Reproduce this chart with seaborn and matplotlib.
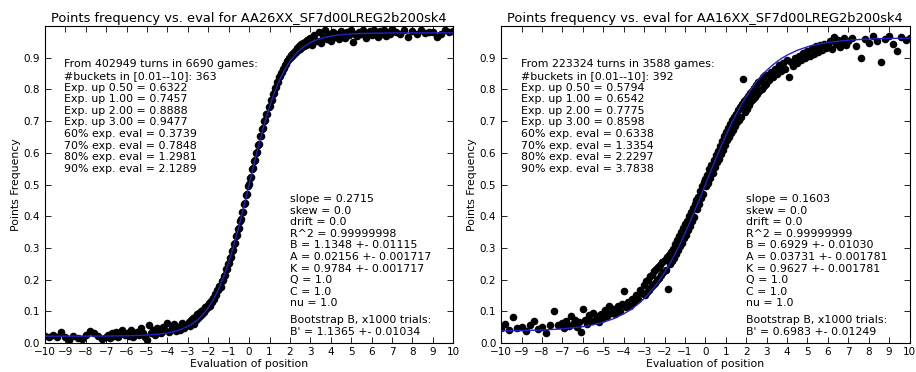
import numpy as np
import matplotlib
matplotlib.use("Agg")
import matplotlib.pyplot as plt
import seaborn as sns

# bucket centres (eval of position): coarse in the tails, fine around zero
x_buckets = np.round(np.concatenate([
    np.arange(-10.0, -7.1, 0.2),
    np.arange(-7.0, -3.05, 0.1),
    np.arange(-3.0, 2.975, 0.05),
    np.arange(3.0, 6.95, 0.1),
    np.arange(7.0, 10.05, 0.2),
]), 2)

# points frequency per bucket, AA26XX
freq_aa26 = [
    # -10.0 .. -7.2
    0.022, 0.020, 0.024, 0.018, 0.036, 0.020, 0.010, 0.022, 0.016, 0.014,
    0.024, 0.038, 0.030, 0.022, 0.014,
    # -7.0 .. -3.1
    0.020, 0.026, 0.016, 0.030, 0.022, 0.034, 0.018, 0.028, 0.040, 0.024,
    0.030, 0.022, 0.040, 0.018, 0.028, 0.035, 0.024, 0.046, 0.030, 0.020,
    0.008, 0.058, 0.030, 0.040, 0.026, 0.048, 0.036, 0.030, 0.052, 0.040,
    0.064, 0.034, 0.046, 0.060, 0.038, 0.050, 0.042, 0.062, 0.048, 0.056,
    # -3.00 .. -0.05
    0.060, 0.066, 0.054, 0.072, 0.064, 0.078, 0.060, 0.082, 0.074, 0.090,
    0.080, 0.094, 0.086, 0.100, 0.092, 0.104, 0.098, 0.112, 0.106, 0.118,
    0.114, 0.126, 0.118, 0.134, 0.130, 0.142, 0.140, 0.156, 0.152, 0.168,
    0.166, 0.180, 0.178, 0.196, 0.198, 0.212, 0.214, 0.232, 0.232, 0.250,
    0.252, 0.268, 0.272, 0.290, 0.294, 0.312, 0.316, 0.336, 0.340, 0.360,
    0.364, 0.386, 0.390, 0.412, 0.414, 0.438, 0.442, 0.466, 0.470, 0.494,
    # 0.00 .. 2.95
    0.502, 0.520, 0.524, 0.548, 0.552, 0.574, 0.578, 0.600, 0.604, 0.626,
    0.628, 0.652, 0.654, 0.676, 0.678, 0.700, 0.702, 0.722, 0.724, 0.744,
    0.748, 0.766, 0.768, 0.786, 0.790, 0.804, 0.808, 0.822, 0.824, 0.838,
    0.842, 0.852, 0.856, 0.866, 0.868, 0.878, 0.880, 0.890, 0.892, 0.900,
    0.898, 0.908, 0.906, 0.916, 0.912, 0.922, 0.918, 0.930, 0.924, 0.936,
    0.928, 0.942, 0.934, 0.946, 0.938, 0.950, 0.940, 0.956, 0.944, 0.958,
    # 3.0 .. 6.9
    0.962, 0.940, 0.972, 0.952, 0.980, 0.948, 0.966, 0.986, 0.958, 0.974,
    0.952, 0.982, 0.966, 0.976, 0.958, 0.984, 0.970, 0.962, 0.980, 0.972,
    0.986, 0.950, 0.976, 0.968, 0.982, 0.974, 0.988, 0.962, 0.978, 0.984,
    0.972, 0.986, 0.978, 0.966, 0.984, 0.976, 0.988, 0.970, 0.982, 0.976,
    # 7.0 .. 10.0
    0.990, 0.982, 0.976, 0.986, 0.964, 0.984, 0.974, 0.986, 0.978, 0.982,
    0.980, 0.964, 0.976, 0.986, 0.980, 0.984,
]

# points frequency per bucket, AA16XX
freq_aa16 = [
    # -10.0 .. -7.2
    0.046, 0.060, 0.040, 0.082, 0.048, 0.052, 0.038, 0.056, 0.068, 0.044,
    0.050, 0.030, 0.058, 0.100, 0.056,
    # -7.0 .. -3.1
    0.062, 0.048, 0.070, 0.054, 0.084, 0.060, 0.074, 0.050, 0.066, 0.036,
    0.108, 0.072, 0.060, 0.088, 0.068, 0.096, 0.074, 0.084, 0.066, 0.092,
    0.080, 0.104, 0.086, 0.118, 0.094, 0.108, 0.090, 0.116, 0.100, 0.122,
    0.164, 0.112, 0.130, 0.118, 0.140, 0.128, 0.152, 0.140, 0.166, 0.158,
    # -3.00 .. -0.05
    0.182, 0.150, 0.194, 0.160, 0.200, 0.168, 0.210, 0.176, 0.216, 0.184,
    0.226, 0.190, 0.232, 0.198, 0.240, 0.206, 0.246, 0.214, 0.254, 0.224,
    0.262, 0.230, 0.270, 0.170, 0.278, 0.248, 0.288, 0.258, 0.298, 0.268,
    0.312, 0.282, 0.326, 0.292, 0.338, 0.306, 0.350, 0.316, 0.364, 0.330,
    0.374, 0.342, 0.386, 0.356, 0.400, 0.368, 0.412, 0.384, 0.426, 0.398,
    0.438, 0.452, 0.422, 0.462, 0.438, 0.478, 0.456, 0.494, 0.470, 0.508,
    # 0.00 .. 2.95
    0.516, 0.494, 0.530, 0.506, 0.548, 0.522, 0.562, 0.536, 0.578, 0.556,
    0.592, 0.570, 0.606, 0.582, 0.622, 0.596, 0.636, 0.610, 0.652, 0.626,
    0.666, 0.640, 0.678, 0.650, 0.690, 0.662, 0.704, 0.672, 0.714, 0.686,
    0.724, 0.696, 0.736, 0.704, 0.746, 0.714, 0.754, 0.834, 0.762, 0.728,
    0.770, 0.738, 0.780, 0.750, 0.788, 0.762, 0.796, 0.770, 0.806, 0.776,
    0.814, 0.784, 0.822, 0.794, 0.830, 0.800, 0.838, 0.812, 0.844, 0.818,
    # 3.0 .. 6.9
    0.846, 0.830, 0.856, 0.840, 0.866, 0.850, 0.876, 0.858, 0.882, 0.866,
    0.892, 0.838, 0.888, 0.874, 0.900, 0.884, 0.906, 0.892, 0.914, 0.898,
    0.922, 0.904, 0.930, 0.912, 0.936, 0.918, 0.940, 0.924, 0.944, 0.930,
    0.936, 0.952, 0.928, 0.966, 0.944, 0.956, 0.934, 0.950, 0.962, 0.940,
    # 7.0 .. 10.0
    0.952, 0.962, 0.938, 0.898, 0.958, 0.946, 0.968, 0.952, 0.888, 0.960,
    0.970, 0.944, 0.922, 0.966, 0.956, 0.962,
]

# fitted curve, read at these evals
x_fit = [-10, -9, -8, -7, -6, -5.5, -5, -4.5, -4, -3.75, -3.5, -3.25, -3,
         -2.75, -2.5, -2.25, -2, -1.75, -1.5, -1.25, -1, -0.75, -0.5, -0.25,
         0, 0.25, 0.5, 0.75, 1, 1.25, 1.5, 1.75, 2, 2.25, 2.5, 2.75, 3,
         3.25, 3.5, 3.75, 4, 4.5, 5, 5.5, 6, 7, 8, 9, 10]
fit_aa26 = [0.0216, 0.0216, 0.0217, 0.0219, 0.0227, 0.0235, 0.0249, 0.0274,
            0.0317, 0.0350, 0.0393, 0.0450, 0.0524, 0.0620, 0.0746, 0.0907,
            0.1112, 0.1371, 0.1691, 0.2081, 0.2544, 0.3079, 0.3678, 0.4326,
            0.5000, 0.5674, 0.6322, 0.6921, 0.7456, 0.7919, 0.8309, 0.8629,
            0.8888, 0.9093, 0.9254, 0.9380, 0.9476, 0.9550, 0.9607, 0.9650,
            0.9683, 0.9726, 0.9751, 0.9765, 0.9773, 0.9781, 0.9783, 0.9784,
            0.9784]
fit_aa16 = [0.0382, 0.0391, 0.0409, 0.0445, 0.0516, 0.0573, 0.0654, 0.0765,
            0.0918, 0.1014, 0.1125, 0.1254, 0.1402, 0.1571, 0.1764, 0.1981,
            0.2224, 0.2494, 0.2791, 0.3112, 0.3458, 0.3824, 0.4206, 0.4600,
            0.5000, 0.5400, 0.5794, 0.6176, 0.6542, 0.6888, 0.7209, 0.7506,
            0.7776, 0.8019, 0.8236, 0.8429, 0.8598, 0.8746, 0.8875, 0.8986,
            0.9082, 0.9235, 0.9346, 0.9427, 0.9484, 0.9555, 0.9591, 0.9609,
            0.9618]

titles = ["Points frequency vs. eval for AA26XX_SF7d00LREG2b200sk4",
          "Points frequency vs. eval for AA16XX_SF7d00LREG2b200sk4"]

summary_aa26 = ["From 402949 turns in 6690 games:",
                "#buckets in [0.01--10]: 363",
                "Exp. up 0.50 = 0.6322", "Exp. up 1.00 = 0.7457",
                "Exp. up 2.00 = 0.8888", "Exp. up 3.00 = 0.9477",
                "60% exp. eval = 0.3739", "70% exp. eval = 0.7848",
                "80% exp. eval = 1.2981", "90% exp. eval = 2.1289"]
summary_aa16 = ["From 223324 turns in 3588 games:",
                "#buckets in [0.01--10]: 392",
                "Exp. up 0.50 = 0.5794", "Exp. up 1.00 = 0.6542",
                "Exp. up 2.00 = 0.7775", "Exp. up 3.00 = 0.8598",
                "60% exp. eval = 0.6338", "70% exp. eval = 1.3354",
                "80% exp. eval = 2.2297", "90% exp. eval = 3.7838"]

params_aa26 = ["slope = 0.2715", "skew = 0.0", "drift = 0.0",
               "R^2 = 0.99999998", "B = 1.1348 +- 0.01115",
               "A = 0.02156 +- 0.001717", "K = 0.9784 +- 0.001717",
               "Q = 1.0", "C = 1.0", "nu = 1.0"]
params_aa16 = ["slope = 0.1603", "skew = 0.0", "drift = 0.0",
               "R^2 = 0.99999999", "B = 0.6929 +- 0.01030",
               "A = 0.03731 +- 0.001781", "K = 0.9627 +- 0.001781",
               "Q = 1.0", "C = 1.0", "nu = 1.0"]

boot_aa26 = ["Bootstrap B, x1000 trials:", "B' = 1.1365 +- 0.01034"]
boot_aa16 = ["Bootstrap B, x1000 trials:", "B' = 0.6983 +- 0.01249"]

assert len(freq_aa26) == len(x_buckets) == len(freq_aa16)

sns.set_style("ticks", {
    "xtick.direction": "in", "ytick.direction": "in",
    "xtick.top": True, "ytick.right": True,
    "axes.edgecolor": "black", "text.color": "black",
    "axes.labelcolor": "black", "xtick.color": "black", "ytick.color": "black",
})
plt.rcParams["font.family"] = ["DejaVu Sans"]

fig, axes = plt.subplots(1, 2, figsize=(9.16, 3.72), dpi=100)
fig.subplots_adjust(left=0.049, right=0.993, bottom=0.078, top=0.930, wspace=0.117)

panels = [
    (freq_aa26, fit_aa26, titles[0], summary_aa26, params_aa26, boot_aa26),
    (freq_aa16, fit_aa16, titles[1], summary_aa16, params_aa16, boot_aa16),
]

yt = np.arange(0, 0.95, 0.1)
for ax, (freq, fit, title, summary, params, boot) in zip(axes, panels):
    sns.scatterplot(x=x_buckets, y=freq, ax=ax, color="black", s=30,
                    linewidth=0, zorder=2)
    sns.lineplot(x=x_fit, y=fit, ax=ax, color="#2222cc", lw=1.0,
                 sort=False, zorder=3)
    ax.set_xlim(-10, 10)
    ax.set_ylim(0, 1.0)
    ax.set_xticks(range(-10, 11))
    ax.set_yticks(yt)
    ax.set_yticklabels([f"{v:.1f}" for v in yt])
    ax.tick_params(labelsize=7.5, length=4, width=0.6)
    ax.tick_params(axis="x", pad=3)
    ax.tick_params(axis="y", pad=3.5)
    for sp in ax.spines.values():
        sp.set_linewidth(0.8)
    ax.set_title(title, fontsize=9.4, pad=3)
    ax.set_xlabel("Evaluation of position", fontsize=7.8, labelpad=1)
    ax.set_ylabel("Points Frequency", fontsize=7.8, labelpad=2)
    ax.text(-9.05, 0.895, "\n".join(summary), fontsize=7.9, va="top",
            ha="left", linespacing=1.2)
    ax.text(2.0, 0.47, "\n".join(params), fontsize=7.9, va="top",
            ha="left", linespacing=1.2)
    ax.text(2.0, 0.088, "\n".join(boot), fontsize=7.9, va="top",
            ha="left", linespacing=1.2)

fig.savefig("out.png", dpi=100)
